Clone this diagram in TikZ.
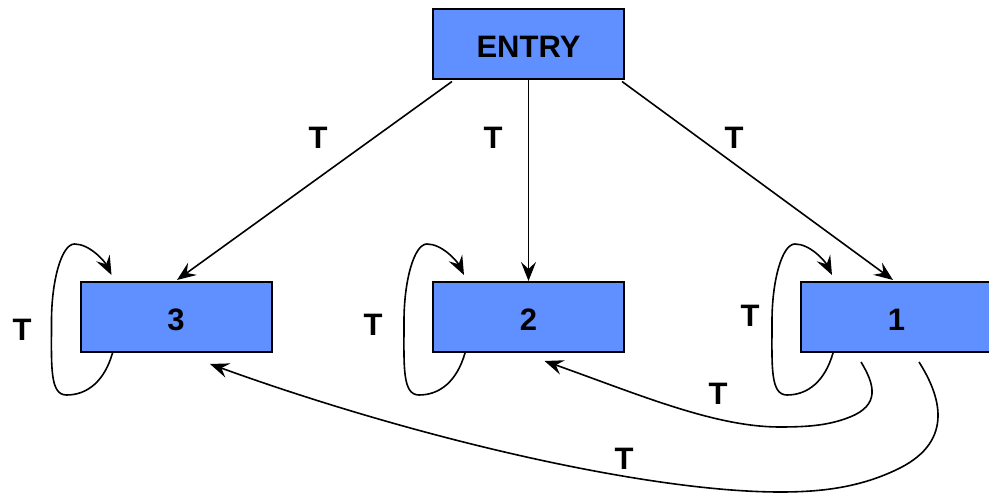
\documentclass[tikz,border=0pt]{standalone}
\usepackage{fontspec}
\setmainfont{Liberation Sans}
\usetikzlibrary{arrows.meta,calc}
\definecolor{boxblue}{RGB}{96,144,255}
\begin{document}
\begin{tikzpicture}[x=1pt,y=-1pt,
  box/.style={draw=black,line width=2pt,fill=boxblue,minimum width=191pt,minimum height=70pt,inner sep=0pt,text height=27pt,text depth=0pt,font=\fontsize{31}{31}\selectfont\bfseries},
  arr/.style={line width=1.6pt,-{Stealth[length=19pt,width=15pt,inset=7pt]}},
  lbl/.style={font=\fontsize{31}{31}\selectfont\bfseries,inner sep=0pt}]
\clip (0,0) rectangle (989,494);
\fill[white] (0,0) rectangle (989,494);
\node[box] (entry) at (528.5,44.5) {ENTRY};
\node[box] (n3) at (176,317) {3};
\node[box] (n2) at (528.5,317) {2};
\node[box] (n1) at (896.5,317) {1};
% entry arrows
\draw[arr] ($(entry.south west)+(20,1)$) -- ($(n3.north)+(1,-1)$);
\draw[arr] (entry.south) -- (n2.north);
\draw[arr] ($(entry.south east)+(-3,1)$) -- ($(n1.north west)+(93,-1)$);
% self loops
\foreach \n in {n3,n2,n1} {
  \begin{scope}[shift={(\n.north west)}]
    \draw[arr] (33,72) .. controls (25,100) and (8,114) .. (-13,114)
      .. controls (-30,114) and (-28,85) .. (-28,40)
      .. controls (-28,0) and (-18,-37) .. (-5,-37)
      .. controls (10,-37) and (25,-20) .. (32,-6);
  \end{scope}
}
% bottom curves
\draw[arr] ($(n1.south west)+(61,9)$) .. controls (875,385) and (880,405) .. (850,417)
  .. controls (830,425) and (810,427) .. (780,427)
  .. controls (715,427) and (640,395) .. ($(n2.south)+(16,8)$);
\draw[arr] ($(n1.south west)+(119,9)$) .. controls (940,395) and (955,440) .. (900,468)
  .. controls (860,488) and (820,492) .. (780,492)
  .. controls (650,492) and (420,440) .. ($(n3.south)+(34,11)$);
% labels
\node[lbl] (t1) at (318,138) {T};
\node[lbl] (t2) at (493,138) {T};
\node[lbl] (t3) at (734,138) {T};
\node[lbl] (t4) at (22,330) {T};
\node[lbl] (t5) at (373,325) {T};
\node[lbl] (t6) at (750,316) {T};
\node[lbl] (t7) at (718,394) {T};
\node[lbl] (t8) at (624,459) {T};
\end{tikzpicture}
\end{document}
